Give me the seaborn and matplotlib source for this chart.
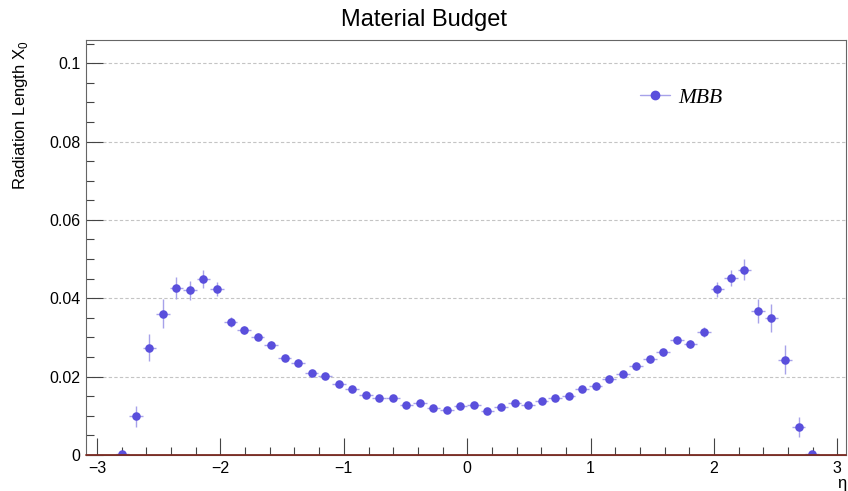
import numpy as np
import pandas as pd
import matplotlib
matplotlib.use("Agg")
import matplotlib.pyplot as plt
from matplotlib.lines import Line2D
from matplotlib.ticker import MultipleLocator, FuncFormatter
import seaborn as sns

# Bin centres in pseudorapidity
eta = [-2.795, -2.686, -2.576, -2.466, -2.357, -2.247, -2.138, -2.028, -1.918,
       -1.809, -1.699, -1.589, -1.480, -1.370, -1.261, -1.151, -1.041, -0.932,
       -0.822, -0.713, -0.603, -0.493, -0.384, -0.274, -0.164, -0.055,
       0.055, 0.164, 0.274, 0.384, 0.493, 0.603, 0.713, 0.822, 0.932,
       1.041, 1.151, 1.261, 1.370, 1.480, 1.589, 1.699, 1.809, 1.918,
       2.028, 2.138, 2.247, 2.357, 2.466, 2.576, 2.686, 2.795]
half_width = 0.0548

# Radiation length per bin (in X0) and its uncertainty
x0 = [0.0002, 0.0099, 0.0274, 0.0361, 0.0427, 0.0420, 0.0449, 0.0423, 0.0340,
      0.0320, 0.0302, 0.0281, 0.0247, 0.0236, 0.0209, 0.0201, 0.0181, 0.0168,
      0.0152, 0.0145, 0.0145, 0.0128, 0.0133, 0.0120, 0.0115, 0.0125,
      0.0127, 0.0112, 0.0122, 0.0132, 0.0128, 0.0139, 0.0146, 0.0151, 0.0168,
      0.0175, 0.0195, 0.0206, 0.0226, 0.0244, 0.0262, 0.0293, 0.0284, 0.0314,
      0.0423, 0.0452, 0.0473, 0.0367, 0.0350, 0.0243, 0.0071, 0.0003]
x0_err = [0.0002, 0.0027, 0.0034, 0.0036, 0.0028, 0.0025, 0.0024, 0.0018, 0.0013,
          0.0010, 0.0009, 0.0009, 0.0008, 0.0008, 0.0008, 0.0008, 0.0008, 0.0007,
          0.0007, 0.0007, 0.0007, 0.0007, 0.0007, 0.0007, 0.0007, 0.0007,
          0.0007, 0.0007, 0.0007, 0.0007, 0.0007, 0.0007, 0.0007, 0.0007, 0.0007,
          0.0008, 0.0008, 0.0008, 0.0008, 0.0008, 0.0009, 0.0009, 0.0010, 0.0012,
          0.0019, 0.0021, 0.0026, 0.0030, 0.0035, 0.0037, 0.0026, 0.0002]

y_ticks = [0, 0.02, 0.04, 0.06, 0.08, 0.1]
x_ticks = [-3, -2, -1, 0, 1, 2, 3]

df = pd.DataFrame({"eta": eta, "x0": x0, "err": x0_err})

sns.set_theme(style="white")
plt.rcParams["font.family"] = ["Liberation Sans", "DejaVu Sans"]
plt.rcParams["mathtext.fontset"] = "custom"
plt.rcParams["mathtext.rm"] = "Liberation Sans"
plt.rcParams["text.color"] = "black"
plt.rcParams["axes.labelcolor"] = "black"
plt.rcParams["xtick.labelcolor"] = "black"
plt.rcParams["ytick.labelcolor"] = "black"

point_color = "#5a4fdc"
bar_color = "#a7a2ea"

fig = plt.figure(figsize=(8.48, 4.91), dpi=100)
ax = fig.add_axes([0.1014, 0.0733, 0.8962, 0.8452])

ax.set_xlim(-3.09, 3.07)
ax.set_ylim(0, 0.1059)

# horizontal dashed grid at the major y ticks
for yv in y_ticks[1:]:
    ax.axhline(yv, color="#c4c4c4", lw=0.8, ls=(0, (3, 2)), zorder=0)

ax.errorbar(df["eta"], df["x0"], xerr=half_width, yerr=df["err"], fmt="none",
            ecolor=bar_color, elinewidth=1.0, capsize=0, zorder=2)
sns.scatterplot(data=df, x="eta", y="x0", ax=ax, color=point_color, s=38,
                edgecolor=point_color, linewidth=0, zorder=3, legend=False)

# zero line along the bottom edge
ax.axhline(0, color="#7a2b22", lw=1.3, zorder=4, clip_on=False)

ax.set_xticks(x_ticks)
ax.set_yticks(y_ticks)
ax.xaxis.set_minor_locator(MultipleLocator(0.2))
ax.yaxis.set_minor_locator(MultipleLocator(0.005))
ax.yaxis.set_major_formatter(FuncFormatter(lambda v, p: "0" if v == 0 else f"{v:g}"))
ax.xaxis.set_major_formatter(FuncFormatter(lambda v, p: f"{int(round(v))}".replace("-", "\u2212")))

ax.tick_params(axis="both", which="major", direction="in", length=12, width=0.8,
               color="#444444", labelsize=11.5, pad=4, labelcolor="black")
ax.tick_params(axis="both", which="minor", direction="in", length=6, width=0.8,
               color="#444444")
ax.tick_params(axis="x", which="both", bottom=True, top=False)
ax.tick_params(axis="y", which="both", left=True, right=False)

for side in ["left", "right", "top", "bottom"]:
    ax.spines[side].set_color("#666666")
    ax.spines[side].set_linewidth(0.8)

ax.set_xlabel("\u03b7", loc="right", fontsize=12, labelpad=0, color="black")
ax.set_ylabel("Radiation Length X$_0$", loc="top", fontsize=12, labelpad=14,
              color="black")
fig.suptitle("Material Budget", x=0.5, y=0.982, fontsize=17, color="black")

handle = Line2D([], [], color=bar_color, lw=1.0, marker="o", markersize=6,
                markerfacecolor=point_color, markeredgecolor=point_color)
ax.legend([handle], ["MBB"], loc="upper left", bbox_to_anchor=(0.703, 0.932),
          frameon=False, handlelength=1.4, handletextpad=0.4,
          prop={"family": "Liberation Serif", "style": "italic", "size": 15.5})

fig.savefig("out.png", dpi=100)
